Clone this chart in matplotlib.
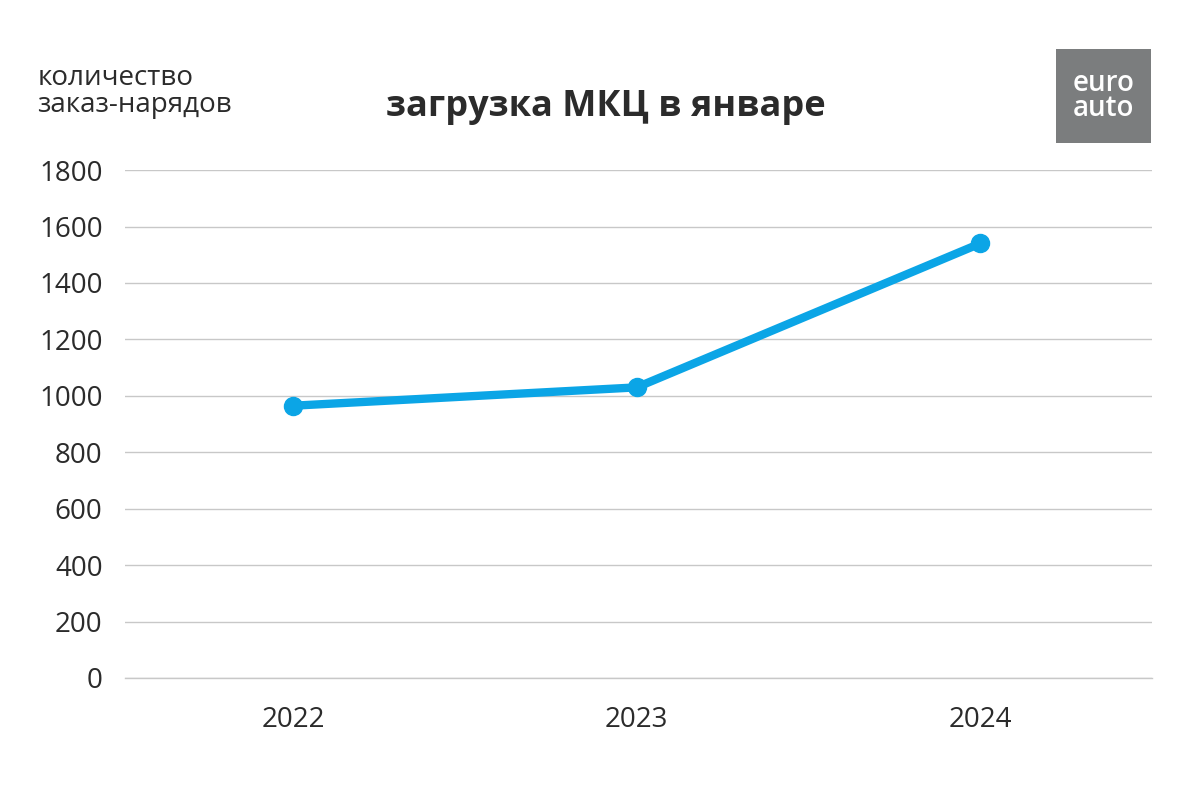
import matplotlib.pyplot as plt
from matplotlib.patches import Rectangle

plt.rcParams['font.family'] = ['Open Sans', 'DejaVu Sans']

# data
years = ['2022', '2023', '2024']
orders = [965, 1030, 1540]
y_ticks = [0, 200, 400, 600, 800, 1000, 1200, 1400, 1600, 1800]

text_color = '#2b2b2b'
line_color = '#0ba5e6'

fig = plt.figure(figsize=(12, 8.01), dpi=100)
ax = fig.add_axes([0.104, 0.1536, 0.856, 0.634])

x = range(len(years))
ax.plot(x, orders, color=line_color, linewidth=6, marker='o', markersize=13,
        solid_capstyle='round', zorder=3)

ax.set_xlim(-0.49, 2.5)
ax.set_ylim(0, 1800)
ax.set_yticks(y_ticks)
ax.set_yticklabels([str(v) for v in y_ticks], fontsize=20, color=text_color)
ax.set_xticks(list(x))
ax.set_xticklabels(years, fontsize=20, color=text_color)
ax.tick_params(axis='both', length=0)
ax.tick_params(axis='y', pad=16)
ax.tick_params(axis='x', pad=20)
ax.grid(axis='y', color='#c8c8c8', linewidth=1)
ax.axhline(0, color='#c8c8c8', linewidth=1, clip_on=False, zorder=1)
ax.set_axisbelow(True)
for s in ax.spines.values():
    s.set_visible(False)

# titles
fig.text(0.505, 0.866, 'загрузка МКЦ в январе', ha='center', va='center',
         fontsize=26, fontweight='bold', color=text_color)
fig.text(0.031, 0.886, 'количество\nзаказ-нарядов', ha='left', va='center',
         fontsize=20, color=text_color, linespacing=0.95)

# logo
fig.patches.append(Rectangle((0.88, 0.821), 0.0795, 0.118, transform=fig.transFigure,
                             facecolor='#7b7d7e', edgecolor='none'))
fig.text(0.9195, 0.88, 'euro\nauto', ha='center', va='center', fontsize=20,
         fontweight='semibold', color='white', linespacing=0.8)

fig.savefig('out.png', dpi=100, facecolor='white')
